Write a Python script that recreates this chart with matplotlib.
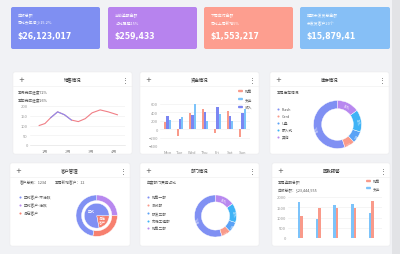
import numpy as np
import matplotlib
matplotlib.use('Agg')
import matplotlib.pyplot as plt
from matplotlib.patches import FancyBboxPatch, Rectangle

plt.rcParams['font.family'] = ['Noto Sans CJK SC', 'DejaVu Sans']

W, H = 400, 255

# ---- data ----
card_titles = ['应收总额', '当前逾期金额', '下周应付金额', '超期未发货总金额']
card_notes = ['同比去年减少15.2%', '占比已超15%', '同比上周新增5%', '未发货客户20个']
card_values = ['$26,123,017', '$259,433', '$1,553,217', '$15,879,41']

panel_titles = ['销售情况', '资金情况', '库存情况', '客户管理', '部门情况', '回款预警']

sales_x = [0.75, 1.0, 1.25, 1.55, 1.85, 2.15, 2.45, 2.75, 3.05, 3.4, 3.75, 4.15]
sales_y = [100, 110, 140, 170, 155, 128, 120, 135, 165, 180, 170, 155]
months = ['1月', '2月', '3月', '4月']

days = ['Mon', 'Tue', 'Wed', 'Thu', 'Fri', 'Sat', 'Sun']
fund_sales = [170, -170, 390, 470, -80, 430, -180]
fund_income = [320, 240, 340, 420, 520, 320, 380]
fund_expense = [210, 300, 600, 200, 370, 200, 470]

stock_names = ['Flash', 'Card', 'U盘', '嵌入式', '其他']
stock_vals = [55, 7, 8, 15, 15]

cust_ring_names = ['正式客户-不活跃', '正式客户-活跃', '潜在客户']
cust_ring_vals = [47, 25, 28]
cust_inner_names = ['潜在\n客户', '正式']
cust_inner_vals = [22, 78]

dept_names = ['销售一部', '测试部', '研发三部', '市场工程部', '销售二部']
dept_vals = [55, 7, 8, 15, 15]

warn_expense = [1750, 950, 1600, 1650, 1200]
warn_sales = [1050, 1450, 1450, 1450, 1800]

# ---- colours ----
c_blue = '#8090f3'
c_purple = '#b888ef'
c_salmon = '#f99a8a'
c_lblue = '#7cc3fa'
c_sky = '#45a8f6'
card_colors = ['#7f8ff2', '#b783ee', '#fd9e8f', '#86bff6']
ring_colors = [c_blue, c_salmon, '#5aa2f6', '#3fb3f6', c_purple]
grid_c = '#eeeeee'
tick_c = '#999999'


def box(x0, y0, x1, y1):
    return [x0 / W, 1 - y1 / H, (x1 - x0) / W, (y1 - y0) / H]


fig = plt.figure(figsize=(4, 2.55), dpi=100)
fig.patch.set_facecolor('#f1f2f5')
bg = fig.add_axes([0, 0, 1, 1])
bg.set_xlim(0, W)
bg.set_ylim(H, 0)
bg.axis('off')
bg.add_patch(Rectangle((392, 0), 8, H, color='#e2e3e6', lw=0))

# top cards
card_x = [(11, 100), (108, 197), (204, 293), (300, 390)]
for (x0, x1), col, t, n, v in zip(card_x, card_colors, card_titles, card_notes, card_values):
    bg.add_patch(FancyBboxPatch((x0, 8), x1 - x0, 42, boxstyle='round,pad=0,rounding_size=2',
                                fc=col, ec='none'))
    bg.text(x0 + 7, 16, t, color='white', fontsize=2.8, va='center')
    bg.text(x0 + 7, 23.5, n, color='white', fontsize=2.8, va='center')
    bg.text(x0 + 6, 37, v, color='white', fontsize=5.6, fontweight='bold', va='center',
            family='DejaVu Sans')

# panels
panels = [(13, 73, 132, 155), (140, 73, 259, 155), (270, 73, 389, 155),
          (10, 164, 130, 247), (140, 164, 259, 247), (272, 164, 390, 247)]
for (x0, y0, x1, y1), t in zip(panels, panel_titles):
    bg.add_patch(FancyBboxPatch((x0, y0), x1 - x0, y1 - y0, boxstyle='round,pad=0,rounding_size=2',
                                fc='white', ec='#e8e8e8', lw=0.3))
    bg.plot([x0, x1], [y0 + 13.5, y0 + 13.5], color='#eeeeee', lw=0.4)
    bg.text(x0 + 8, y0 + 7, '+', fontsize=5, color='#555555', ha='center', va='center',
            family='DejaVu Sans')
    bg.text((x0 + x1) / 2, y0 + 7, t, fontsize=3.2, color='#333333', ha='center', va='center')
    bg.text(x1 - 7, y0 + 7, '⋮', fontsize=5, color='#555555', ha='center', va='center',
            family='DejaVu Sans')


def style_axes(ax):
    for s in ax.spines.values():
        s.set_visible(False)
    ax.tick_params(length=0, labelsize=3, labelcolor=tick_c, pad=1.5)
    ax.grid(axis='y', color=grid_c, lw=0.4)
    ax.set_axisbelow(True)
    ax.patch.set_alpha(0)


# --- panel 1: sales line ---
bg.text(18, 93, '本月完成进度72%', fontsize=2.7, color='#555555', va='center')
bg.text(18, 101, '本年完成进度26%', fontsize=2.7, color='#555555', va='center')
ax1 = fig.add_axes(box(30, 107, 125, 146))
style_axes(ax1)
ax1.plot(sales_x, sales_y, color='#f07f86', lw=0.8)
ax1.plot(sales_x[2:6], sales_y[2:6], color='#8c8cf2', lw=0.8)
ax1.set_xticks([1, 2, 3, 4])
ax1.set_xticklabels(months)
ax1.set_yticks([0, 50, 100, 150, 200])
ax1.set_xlim(0.35, 4.48)
ax1.set_ylim(0, 200)
ax1.spines['bottom'].set_visible(True)
ax1.spines['bottom'].set_color('#dddddd')
ax1.spines['bottom'].set_linewidth(0.4)
ax1.tick_params(axis='x', pad=3)

# --- panel 2: fund bars ---
ax2 = fig.add_axes(box(160, 105, 250, 147))
style_axes(ax2)
xi = np.arange(len(days))
bw = 0.17
ax2.bar(xi - bw, fund_sales, bw, color=c_salmon)
ax2.bar(xi, fund_income, bw, color='#7b86f2')
ax2.bar(xi + bw, fund_expense, bw, color=c_lblue)
ax2.set_xticks(xi)
ax2.set_xticklabels(days)
ax2.set_yticks([-400, -200, 0, 200, 400, 600])
ax2.set_ylim(-400, 600)
ax2.set_xlim(-0.6, 6.6)
ax2.tick_params(axis='x', pad=3)
for yy, lab, col in zip([92, 100, 108], ['销售', '支出', '收入'], [c_salmon, c_lblue, '#7b86f2']):
    bg.add_patch(FancyBboxPatch((238, yy - 1.2), 5, 2.4, boxstyle='round,pad=0,rounding_size=1',
                                fc=col, ec='none'))
    bg.text(245, yy, lab, fontsize=2.7, color='#555555', va='center')


def donut(cx, cy, r, vals, cols, width):
    ax = fig.add_axes(box(cx - r, cy - r, cx + r, cy + r))
    wedges, _ = ax.pie(vals, colors=cols, startangle=90, counterclock=True, radius=1,
                       wedgeprops=dict(width=width, edgecolor='white', linewidth=0.3))
    for w, v in zip(wedges, vals):
        a = np.deg2rad((w.theta1 + w.theta2) / 2)
        rr = 1 - width / 2
        ax.text(rr * np.cos(a), rr * np.sin(a), f'{v}%', fontsize=2.4, color='white',
                ha='center', va='center', rotation=np.rad2deg(a) - 90)
    ax.set_xlim(-1, 1)
    ax.set_ylim(-1, 1)
    return ax


def legend_dots(x, ys, names, cols):
    for yy, n, c in zip(ys, names, cols):
        bg.scatter([x], [yy], s=2.2, color=c, lw=0)
        bg.text(x + 4, yy, n, fontsize=2.7, color='#555555', va='center')


# --- panel 3: stock donut ---
bg.text(277, 93, '本周库存情况', fontsize=2.7, color='#555555', va='center')
legend_dots(278, [110, 117, 124, 131, 138], stock_names, ring_colors)
donut(337.5, 125.5, 24, stock_vals, ring_colors, 0.34)

# --- panel 4: customers nested pie ---
bg.text(20, 183, '客户总数：1234', fontsize=2.7, color='#555555', va='center')
bg.text(55, 183, '本周新增客户：12', fontsize=2.7, color='#555555', va='center')
legend_dots(20, [198, 206, 214], cust_ring_names, [c_blue, c_purple, '#f7806f'])
r4 = 20.7
ax4 = fig.add_axes(box(96.7 - r4, 216.7 - r4, 96.7 + r4, 216.7 + r4))
ax4.pie([cust_ring_vals[1], cust_ring_vals[2], cust_ring_vals[0]],
        colors=[c_purple, '#f7806f', c_blue], startangle=90, counterclock=False, radius=1,
        wedgeprops=dict(width=0.27, edgecolor='white', linewidth=0.3))
wi, _ = ax4.pie(cust_inner_vals, colors=['#f7806f', c_blue], startangle=0, counterclock=False,
                radius=0.6, wedgeprops=dict(edgecolor='white', linewidth=0.3))
for w, n in zip(wi, cust_inner_names):
    a = np.deg2rad((w.theta1 + w.theta2) / 2)
    ax4.text(0.33 * np.cos(a), 0.33 * np.sin(a), n, fontsize=2.5, color='white',
             ha='center', va='center', linespacing=1.0)
ax4.set_xlim(-1, 1)
ax4.set_ylim(-1, 1)

# --- panel 5: department donut ---
bg.text(147, 183, '年度部门费用占比', fontsize=2.7, color='#555555', va='center')
legend_dots(148, [198, 206, 214, 222, 229], dept_names, ring_colors)
donut(215.5, 217, 21, dept_vals, ring_colors, 0.33)

# --- panel 6: warning bars ---
bg.text(278, 183, '本周逾期总额', fontsize=2.7, color='#555555', va='center')
bg.text(278, 191, '应收总额：$23,444,555', fontsize=2.7, color='#555555', va='center')
for yy, lab, col in zip([182, 189], ['销售', '支出'], [c_salmon, c_lblue]):
    bg.add_patch(FancyBboxPatch((366, yy - 1.2), 5, 2.4, boxstyle='round,pad=0,rounding_size=1',
                                fc=col, ec='none'))
    bg.text(373, yy, lab, fontsize=2.7, color='#555555', va='center')
ax6 = fig.add_axes(box(288, 198, 382, 239))
style_axes(ax6)
gi = np.arange(len(warn_sales))
bw6 = 0.14
ax6.bar(gi - bw6 / 2, warn_expense, bw6, color=c_lblue)
ax6.bar(gi + bw6 / 2, warn_sales, bw6, color=c_salmon)
ax6.set_xticks([])
ax6.set_yticks([0, 500, 1000, 1500, 2000])
ax6.set_ylim(0, 2000)
ax6.set_xlim(-0.7, 4.6)

fig.savefig('out.png', dpi=100, facecolor=fig.get_facecolor())
